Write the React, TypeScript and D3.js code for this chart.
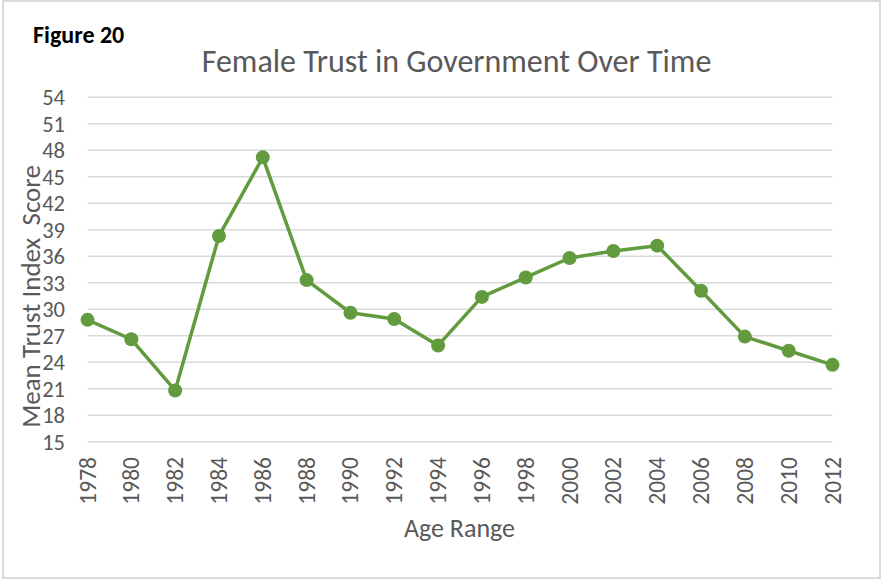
import React from "react";
import * as d3 from "d3";

const years: string[] = ["1978","1980","1982","1984","1986","1988","1990","1992","1994","1996","1998","2000","2002","2004","2006","2008","2010","2012"];
const scores: number[] = [28.8,26.6,20.8,38.3,47.2,33.3,29.6,28.9,25.9,31.4,33.6,35.8,36.6,37.2,32.1,26.9,25.3,23.7];
const yTicks: number[] = [15,18,21,24,27,30,33,36,39,42,45,48,51,54];

const W = 883, H = 582;
const GREEN = "#629b3e";
const TXT = "#595959";
const FONT = "Carlito, 'Open Sans', 'Noto Sans', sans-serif";

export default function App() {
  const x = d3.scalePoint<string>().domain(years).range([87.5, 832.5]);
  const y = d3.scaleLinear().domain([15, 54]).range([441.7, 97.3]);
  const line = d3.line<number>().x((_, i) => x(years[i])!).y(d => y(d));
  const data = scores;
  return (
    <svg width={W} height={H} style={{ position: "absolute", left: 0, top: 0, display: "block", background: "#fff" }}>
      <rect x={3} y={1} width={877} height={577} fill="#fff" stroke="#d9d9d9" strokeWidth={2} />
      <text x={33} y={43} fontFamily={FONT} fontWeight="bold" fontSize={24} fill="#000">Figure 20</text>
      <text x={456.5} y={72} textAnchor="middle" fontFamily={FONT} fontWeight={300} fontSize={32} fill={TXT}>Female Trust in Government Over Time</text>
      {yTicks.map(t => (
        <g key={t}>
          <line x1={87.5} x2={832.5} y1={y(t)} y2={y(t)} stroke="#d9d9d9" strokeWidth={1.5} />
          <text x={65} y={y(t)} dy="0.35em" textAnchor="end" fontFamily={FONT} fontSize={22.5} fill={TXT}>{t}</text>
        </g>
      ))}
      <text transform={`translate(40,296.5) rotate(-90)`} textAnchor="middle" fontFamily={FONT} fontWeight={300} fontSize={27} fill={TXT} style={{ whiteSpace: "pre" }} xmlSpace="preserve">{"Mean Trust Index  Score"}</text>
      {years.map(yr => (
        <text key={yr} transform={`translate(${x(yr)},457) rotate(-90)`} textAnchor="end" dominantBaseline="central" fontFamily={FONT} fontSize={23.5} fill={TXT}>{yr}</text>
      ))}
      <text x={459.5} y={537} textAnchor="middle" fontFamily={FONT} fontWeight={300} fontSize={26} fill={TXT}>Age Range</text>
      <path d={line(data) || ""} fill="none" stroke={GREEN} strokeWidth={3.5} strokeLinejoin="round" />
      {data.map((v, i) => (
        <circle key={i} cx={x(years[i])!} cy={y(v)} r={7} fill={GREEN} />
      ))}
    </svg>
  );
}
